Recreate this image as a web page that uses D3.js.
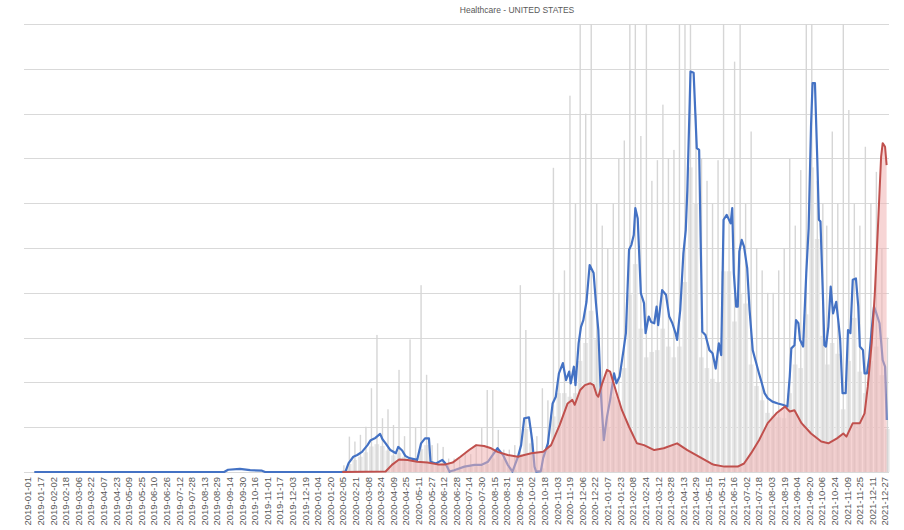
<!DOCTYPE html>
<html><head><meta charset="utf-8">
<script src="https://cdn.jsdelivr.net/npm/d3@7"></script>
<style>body{margin:0;background:#fff} svg{display:block}</style>
</head><body><svg id="c" width="904" height="530"></svg>
<script>
const title = "Healthcare - UNITED STATES";
const firstDate = "2019-01-01", lastDate = "2021-12-31";
const missingDates = ["2020-11-26", "2021-10-10", "2021-10-11"];
const labelEvery = 16;
const yTicks = [0, 10, 20, 30, 40, 50, 60, 70, 80, 90, 100];
const weekStart = "2020-02-03";
const grayBase = [0.4,1.8,2.7,3.4,4.4,5.7,6.2,5.8,4.8,3.7,
  4.3,3.4,2.5,2.2,5.1,6,1.8,1.6,2.1,0.4,
  0.3,0.6,1,1.1,1.3,1.3,1.8,3,4.2,2.8,
  1.1,0.4,4,9.6,6.4,0.2,0.8,5.3,12.4,17.6,
  17.6,16.8,17.6,24.8,28.8,36,29.6,9.6,10,16.8,
  16,23.2,39.6,46.4,32,25.6,26.8,27.2,32,28,
  25.6,28,42.4,68,60,25.6,23.2,20.8,20,44.8,
  44.8,33.6,40,37.6,24,19.2,16,13.2,12.6,12.2,
  12,17.6,24,23.2,35.2,68,52,30.4,24,28.8,
  26.4,14,24.8,34.4,22.4,17.6,24.8,28,21.6,9.6];
const graySpike = [1.5,7.9,6.8,8.3,10.1,18.7,30.6,12,14,10.5,
  22.8,8,29.6,10,41.7,21.7,6,6.4,5.6,3,
  3,3,4,4,6,9.8,18.3,18.3,9.4,5,
  5,6,41.7,31.7,10,8,18.7,16,67.9,40,
  45,84,60,100,80,100,60,55,50,60,
  70,74,100,100,75,100,65,69.6,82,70,
  71.9,100,100,100,80,70,65,60,69.6,100,
  70,91.6,100,60,76,50,45,40,40,45,
  50,70,55,67.4,100,100,65,60,55,76,
  60,100,80.8,60,55,72.6,60,67,50,30];
const blueSeries = [["2019-01-09",0],["2019-09-07",0],["2019-09-12",0.5],["2019-09-27",0.7],["2019-10-10",0.4],["2019-10-25",0.3],["2019-10-29",0],["2020-02-04",0],["2020-02-08",0.1],["2020-02-12",2.0],["2020-02-18",3.4],["2020-02-23",3.8],["2020-02-29",4.5],["2020-03-07",6.0],["2020-03-11",7.1],["2020-03-17",7.6],["2020-03-23",8.5],["2020-03-26",7.3],["2020-03-30",6.4],["2020-04-05",4.9],["2020-04-12",4.2],["2020-04-15",5.6],["2020-04-20",4.8],["2020-04-24",3.6],["2020-04-29",3.1],["2020-05-09",2.7],["2020-05-14",6.4],["2020-05-19",7.5],["2020-05-24",7.5],["2020-05-26",2.3],["2020-06-02",1.9],["2020-06-10",2.7],["2020-06-14",1.9],["2020-06-19",0.1],["2020-06-25",0.4],["2020-07-08",1.2],["2020-07-21",1.6],["2020-07-30",1.6],["2020-08-07",2.3],["2020-08-13",3.8],["2020-08-19",5.3],["2020-08-26",3.8],["2020-09-01",1.6],["2020-09-07",0.1],["2020-09-14",3.4],["2020-09-18",6.0],["2020-09-22",12.0],["2020-09-28",12.2],["2020-10-02",7.1],["2020-10-05",1.2],["2020-10-07",0.1],["2020-10-13",0.2],["2020-10-16",3.1],["2020-10-22",6.4],["2020-10-28",15.3],["2020-11-01",16.8],["2020-11-05",22.0],["2020-11-10",24.3],["2020-11-14",20.5],["2020-11-18",22.4],["2020-11-20",19.8],["2020-11-24",23.5],["2020-11-27",19.4],["2020-12-01",28.7],["2020-12-04",32.4],["2020-12-07",33.9],["2020-12-11",38.0],["2020-12-15",46.2],["2020-12-20",44.4],["2020-12-23",37.7],["2020-12-26",31.7],["2020-12-29",18.3],["2021-01-02",7.1],["2021-01-06",12.3],["2021-01-10",16.1],["2021-01-15",22.0],["2021-01-18",19.8],["2021-01-22",21.3],["2021-01-27",27.2],["2021-01-30",31.0],["2021-02-03",49.6],["2021-02-06",50.7],["2021-02-09",52.9],["2021-02-11",58.9],["2021-02-14",56.6],["2021-02-18",39.9],["2021-02-22",37.7],["2021-02-24",31.0],["2021-02-28",34.7],["2021-03-03",33.5],["2021-03-07",33.2],["2021-03-10",36.9],["2021-03-12",32.8],["2021-03-17",40.6],["2021-03-22",39.5],["2021-03-26",34.7],["2021-03-30",33.2],["2021-04-03",31.0],["2021-04-05",29.5],["2021-04-09",36.2],["2021-04-13",48.8],["2021-04-16",54.0],["2021-04-18",62.9],["2021-04-21",82.4],["2021-04-22",89.4],["2021-04-26",89.1],["2021-04-30",72.3],["2021-05-03",71.9],["2021-05-05",51.0],["2021-05-07",31.3],["2021-05-11",30.6],["2021-05-16",27.2],["2021-05-20",26.5],["2021-05-24",23.1],["2021-05-28",28.7],["2021-05-31",26.1],["2021-06-03",56.3],["2021-06-07",57.4],["2021-06-12",55.5],["2021-06-14",58.9],["2021-06-16",44.4],["2021-06-19",36.9],["2021-06-21",36.9],["2021-06-23",49.2],["2021-06-26",51.8],["2021-06-29",50.3],["2021-07-03",45.5],["2021-07-06",36.2],["2021-07-10",27.2],["2021-07-14",24.6],["2021-07-18",22.0],["2021-07-21",20.2],["2021-07-25",17.6],["2021-07-29",16.5],["2021-08-04",15.7],["2021-08-11",15.3],["2021-08-17",15.0],["2021-08-23",14.6],["2021-08-26",21.3],["2021-08-28",27.6],["2021-09-01",28.3],["2021-09-03",33.9],["2021-09-06",33.2],["2021-09-08",29.5],["2021-09-12",28.0],["2021-09-16",44.4],["2021-09-19",54.4],["2021-09-22",77.1],["2021-09-24",86.8],["2021-09-27",86.8],["2021-09-30",69.6],["2021-10-02",56.3],["2021-10-04",55.9],["2021-10-07",39.9],["2021-10-09",28.3],["2021-10-13",28.0],["2021-10-16",32.4],["2021-10-19",41.4],["2021-10-22",35.4],["2021-10-26",38.0],["2021-10-29",33.2],["2021-10-31",29.5],["2021-11-03",17.6],["2021-11-07",17.6],["2021-11-10",31.7],["2021-11-13",31.0],["2021-11-16",42.9],["2021-11-20",43.2],["2021-11-23",36.9],["2021-11-25",28.0],["2021-11-29",27.2],["2021-12-01",22.0],["2021-12-04",22.0],["2021-12-07",25.7],["2021-12-10",31.7],["2021-12-13",36.9],["2021-12-16",35.4],["2021-12-20",33.2],["2021-12-24",25.0],["2021-12-27",23.5],["2021-12-29",11.6]];
const redSeries = [["2020-02-04",0],["2020-03-30",0.1],["2020-04-07",1.6],["2020-04-16",2.8],["2020-04-27",2.7],["2020-05-09",2.3],["2020-05-22",2.1],["2020-06-04",1.7],["2020-06-14",1.7],["2020-06-23",2.1],["2020-07-03",3.4],["2020-07-14",4.9],["2020-07-23",6.0],["2020-08-02",5.8],["2020-08-11",5.3],["2020-08-19",4.5],["2020-09-01",3.8],["2020-09-14",3.4],["2020-09-22",3.8],["2020-10-01",4.2],["2020-10-16",4.5],["2020-10-26",6.0],["2020-11-06",10.5],["2020-11-16",15.3],["2020-11-22",16.1],["2020-11-25",15.0],["2020-12-03",18.3],["2020-12-09",19.4],["2020-12-16",19.8],["2020-12-20",19.4],["2020-12-24",17.2],["2020-12-26",16.8],["2020-12-31",19.8],["2021-01-06",22.8],["2021-01-10",22.4],["2021-01-17",18.3],["2021-01-25",13.8],["2021-02-03",10.1],["2021-02-13",6.4],["2021-02-22",6.0],["2021-03-07",4.9],["2021-03-19",5.3],["2021-04-05",6.4],["2021-04-18",4.9],["2021-05-05",3.2],["2021-05-18",1.9],["2021-05-22",1.6],["2021-06-04",1.2],["2021-06-21",1.2],["2021-06-29",1.9],["2021-07-08",4.2],["2021-07-18",7.1],["2021-07-29",10.9],["2021-08-09",13.1],["2021-08-20",14.6],["2021-08-26",13.5],["2021-09-01",13.8],["2021-09-10",10.9],["2021-09-22",8.6],["2021-10-05",6.8],["2021-10-16",6.4],["2021-10-27",7.5],["2021-11-04",8.6],["2021-11-08",7.9],["2021-11-16",10.9],["2021-11-25",10.9],["2021-12-01",13.1],["2021-12-05",19.0],["2021-12-10",28.7],["2021-12-14",39.9],["2021-12-18",54.8],["2021-12-22",70.4],["2021-12-24",73.4],["2021-12-27",72.6],["2021-12-29",68.5]];

const parse = d3.utcParse("%Y-%m-%d"), fmt = d3.utcFormat("%Y-%m-%d");
const allDays = d3.utcDay.range(parse(firstDate), d3.utcDay.offset(parse(lastDate), 1)).map(fmt);
const categories = allDays.filter(d => !missingDates.includes(d));
const catIndex = new Map(categories.map((d, i) => [d, i]));

const svg = d3.select("#c");
const plotL = 24, plotR = 889;
const x = d3.scaleBand().domain(categories).range([27.6, 888.6]).padding(0);
const y = d3.scaleLinear().domain([0, 100]).range([472, 24]);
const bw = x.bandwidth();
const cx = d => x(d) + bw / 2;
function catAtOrAfter(dateObj) {
  let d = dateObj;
  for (let k = 0; k < 5; k++) { const s = fmt(d); if (catIndex.has(s)) return s; d = d3.utcDay.offset(d, 1); }
  return null;
}

// gridlines
svg.append("g").selectAll("line").data(yTicks).join("line")
  .attr("x1", plotL).attr("x2", plotR)
  .attr("y1", d => Math.round(y(d)) + 0.5).attr("y2", d => Math.round(y(d)) + 0.5)
  .attr("stroke", "#d9d9d9").attr("stroke-width", 1);

// gray bars (weekly base mass + weekly spike day)
const ws = parse(weekStart);
const weeks = grayBase.map((v, k) => {
  const start = catAtOrAfter(d3.utcDay.offset(ws, 7 * k));
  const spikeDay = catAtOrAfter(d3.utcDay.offset(ws, 7 * k + 3));
  return { start, spikeDay, base: v, spike: graySpike[k] };
}).filter(w => w.start);
const gg = svg.append("g");
gg.selectAll("rect.base").data(weeks).join("rect").attr("class", "base")
  .attr("x", d => x(d.start) + 0.3).attr("width", 7 * bw - 0.9)
  .attr("y", d => y(d.base)).attr("height", d => y(0) - y(d.base))
  .attr("fill", "#e6e6e6");
gg.selectAll("rect.spike").data(weeks.filter(w => w.spikeDay)).join("rect").attr("class", "spike")
  .attr("x", d => cx(d.spikeDay) - 0.7).attr("width", 1.4)
  .attr("y", d => y(d.spike)).attr("height", d => y(0) - y(d.spike))
  .attr("fill", "#d6d6d6");

// baseline
svg.append("line").attr("x1", plotL).attr("x2", plotR)
  .attr("y1", Math.round(y(0)) + 0.5).attr("y2", Math.round(y(0)) + 0.5)
  .attr("stroke", "#d9d9d9");

const blue = blueSeries.filter(d => catIndex.has(d[0]));
const red = redSeries.filter(d => catIndex.has(d[0]));

svg.append("path").datum(blue)
  .attr("d", d3.line().x(d => cx(d[0])).y(d => y(d[1])))
  .attr("fill", "none").attr("stroke", "#4472c4").attr("stroke-width", 2.2)
  .attr("stroke-linejoin", "round");

svg.append("path").datum(red)
  .attr("d", d3.area().x(d => cx(d[0])).y0(y(0)).y1(d => y(d[1])))
  .attr("fill", "rgb(240,178,178)").attr("fill-opacity", 0.55);

svg.append("path").datum(red)
  .attr("d", d3.line().x(d => cx(d[0])).y(d => y(d[1])))
  .attr("fill", "none").attr("stroke", "#c0504d").attr("stroke-width", 2)
  .attr("stroke-linejoin", "round");

// title
svg.append("text").attr("x", 517).attr("y", 13).attr("text-anchor", "middle")
  .attr("font-family", "Liberation Sans, Arial, sans-serif").attr("font-size", 8.5)
  .attr("fill", "#595959").text(title);

// x labels
const labels = categories.filter((d, i) => i % labelEvery === 0);
svg.append("g").selectAll("text").data(labels).join("text")
  .attr("transform", d => `translate(${cx(d)},477) rotate(-90)`)
  .attr("text-anchor", "end").attr("dy", "0.35em")
  .attr("font-family", "Liberation Sans, Arial, sans-serif").attr("font-size", 9.5)
  .attr("fill", "#595959").text(d => d);
</script></body></html>
